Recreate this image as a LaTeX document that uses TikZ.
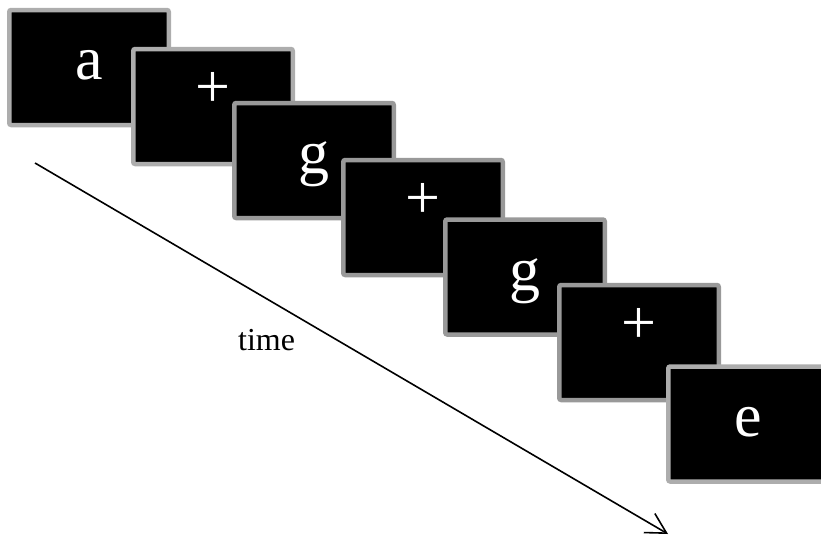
\documentclass[tikz,border=0pt]{standalone}
\usepackage{fontspec}
\setmainfont{Liberation Serif}
\usetikzlibrary{arrows.meta}
\definecolor{bordA}{HTML}{ADADAD}
\definecolor{bordB}{HTML}{999999}
\begin{document}
\begin{tikzpicture}[x=1pt,y=-1pt,
  screen/.style={draw=bordB, fill=black, line width=4.5pt, rounded corners=2pt,
    minimum width=159.5pt, minimum height=115pt, inner sep=0pt, outer sep=0pt},
  glyph/.style={text=white, font=\fontsize{62}{62}\selectfont, inner sep=0pt, anchor=base},
  timearrow/.style={line width=1.6pt, -{Straight Barb[length=20pt,width=22pt]}},
]
\useasboundingbox (0,0) rectangle (821,538);
\clip (0,0) rectangle (821,538);

\node[screen, draw=bordA] (b1) at (89,67.5) {};
\node[glyph] (t1) at ([yshift=-69.75pt]b1.north) {a};
\node[screen, draw=bordA] (b2) at (213,106.5) {};
\node[glyph] (t2) at ([yshift=-58pt]b2.north) {+};
\node[screen] (b3) at (314,160.5) {};
\node[glyph] (t3) at ([yshift=-70.75pt]b3.north) {g};
\node[screen] (b4) at (423,217.5) {};
\node[glyph] (t4) at ([yshift=-58pt]b4.north) {+};
\node[screen] (b5) at (525,277) {};
\node[glyph] (t5) at ([yshift=-70.75pt]b5.north) {g};
\node[screen] (b6) at (639,342.5) {};
\node[glyph] (t6) at ([yshift=-58pt]b6.north) {+};
\node[screen, draw=bordA] (b7) at (748,424) {};
\node[glyph] (t7) at ([yshift=-69.75pt]b7.north) {e};

\coordinate (s) at (35,163);
\coordinate (e) at (668,534);
\draw[timearrow] (s) -- (e);
\node[anchor=base west, inner sep=0pt, font=\fontsize{32}{32}\selectfont] (lbl) at (238,350) {time};
\end{tikzpicture}
\end{document}
